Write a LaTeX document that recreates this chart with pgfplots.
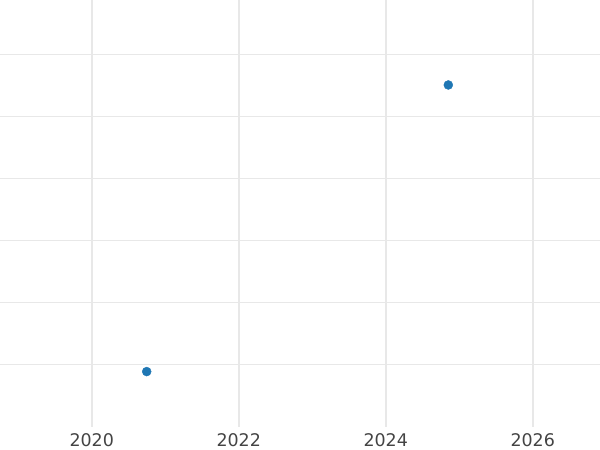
\documentclass[border=0pt]{standalone}
\usepackage{pgfplots}
\pgfplotsset{compat=1.18}
\usepackage{fontspec}
\setmainfont{DejaVu Sans}
\definecolor{pointblue}{HTML}{1F77B4}
\definecolor{gridgray}{HTML}{E8E8E8}
\definecolor{labelgray}{HTML}{444444}
\begin{document}
\begin{tikzpicture}[x=1bp,y=1bp]
\useasboundingbox (0,-23) rectangle (600,427);
\begin{axis}[
  at={(0,0)}, anchor=south west,
  scale only axis,
  width=600bp, height=427bp,
  xmin=2018.752, xmax=2026.916,
  ymin=0, ymax=6.874,
  xtick={2020,2022,2024,2026},
  ytick={1,2,3,4,5,6},
  yticklabels={},
  xticklabel style={font=\fontsize{17.5}{20}\selectfont, text=labelgray, yshift=-3bp},
  /pgf/number format/assume math mode=true,
  /pgf/number format/1000 sep={},
  axis line style={draw=none},
  major tick length=0pt,
  grid=major,
  x grid style={draw=gridgray, line width=2bp},
  y grid style={draw=gridgray, line width=1.2bp},
  clip=false
]
\addplot[only marks, mark=*, mark size=4.5bp, color=pointblue, mark options={draw=pointblue, fill=pointblue}] coordinates {
  (2020.748,0.892)
  (2024.852,5.506)
};
\end{axis}
\end{tikzpicture}
\end{document}
